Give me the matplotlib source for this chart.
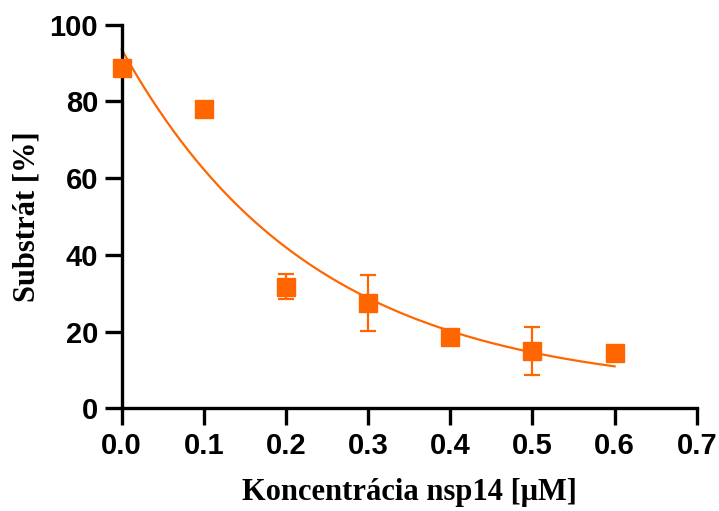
import numpy as np
import matplotlib.pyplot as plt

# measured points
conc = [0.0, 0.1, 0.2, 0.3, 0.4, 0.5, 0.6]
substrate = [88.8, 78.0, 31.7, 27.5, 18.6, 14.9, 14.3]
sd = [0.0, 0.0, 3.2, 7.3, 0.0, 6.3, 0.0]

# one-phase decay fit: Y = (Y0 - plateau) * exp(-K x) + plateau
fit_y0 = 93.5
fit_plateau = 4.2
fit_k = 4.31

orange = '#ff6600'

fig = plt.figure(figsize=(7.19, 5.11), dpi=100)
ax = fig.add_axes([0.1693, 0.201, 0.7997, 0.751])

xfit = np.linspace(0, 0.6, 200)
yfit = (fit_y0 - fit_plateau) * np.exp(-fit_k * xfit) + fit_plateau
ax.plot(xfit, yfit, color=orange, lw=1.6, clip_on=False, zorder=2)

ax.errorbar(conc, substrate, yerr=sd, fmt='s', color=orange, ms=12.5,
            ecolor=orange, elinewidth=1.6, capsize=6, capthick=1.6,
            clip_on=False, zorder=3)

ax.set_xlim(0, 0.7)
ax.set_ylim(0, 100)
ax.set_xticks(np.arange(0, 0.71, 0.1))
ax.set_xticklabels([f'{v:.1f}' for v in np.arange(0, 0.71, 0.1)])
ax.set_yticks([0, 20, 40, 60, 80, 100])

for s in ['top', 'right']:
    ax.spines[s].set_visible(False)
for s in ['left', 'bottom']:
    ax.spines[s].set_linewidth(2.4)
ax.tick_params(width=2.4, length=12, pad=5)
for lab in ax.get_xticklabels() + ax.get_yticklabels():
    lab.set_fontfamily('Liberation Sans')
    lab.set_fontweight('bold')
    lab.set_fontsize(21)

ax.set_xlabel('Koncentrácia nsp14 [μM]', fontfamily='Liberation Serif',
              fontweight='bold', fontsize=22, labelpad=13)
ax.set_ylabel('Substrát [%]', fontfamily='Liberation Serif',
              fontweight='bold', fontsize=22, labelpad=6)

fig.savefig('out.png', dpi=100)
